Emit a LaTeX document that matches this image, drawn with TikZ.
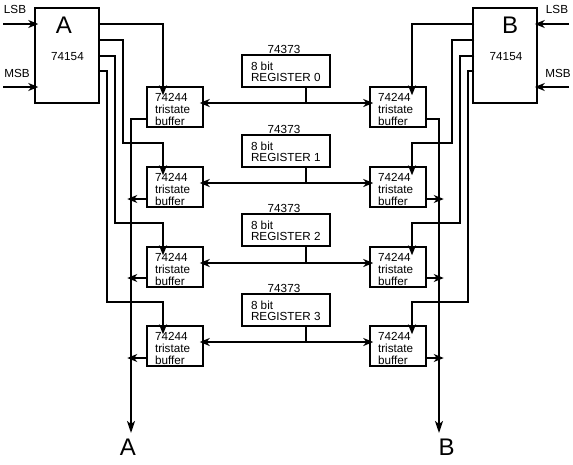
\documentclass[tikz,border=0pt]{standalone}
\usepackage{fontspec}
\setmainfont{Liberation Sans}
\usetikzlibrary{arrows.meta, positioning, calc}
\newcommand{\buftext}{\parbox{40pt}{\vspace{5pt}74244\\tristate\\buffer}}

\begin{document}
\begin{tikzpicture}[x=1pt,y=-1pt,
  chip/.style={draw,line width=1.5pt,fill=white,inner sep=0pt,minimum width=64pt,minimum height=95pt},
  buf/.style={draw,line width=1.5pt,fill=white,inner sep=0pt,minimum width=56pt,minimum height=40pt,font=\fontsize{11.7}{12}\selectfont},
  reg/.style={draw,line width=1.5pt,fill=white,inner sep=0pt,minimum width=88pt,minimum height=32pt,font=\fontsize{11.7}{11.5}\selectfont},
  lbl/.style={inner sep=0pt,font=\fontsize{11.7}{12}\selectfont},
  big/.style={inner sep=0pt,font=\fontsize{24}{24}\selectfont},
  wire/.style={line width=1.5pt},
  bus/.style={line width=1.8pt},
  arr/.style={line width=1.5pt,-{Stealth[length=10pt,width=8pt,inset=3pt]}},
  darr/.style={line width=1.8pt,{Stealth[length=10pt,width=8pt,inset=3pt]}-{Stealth[length=10pt,width=8pt,inset=3pt]}}]
\useasboundingbox (0,0) rectangle (573,464);
% decoders
\node[chip] (chipA) at (67,55.5) {};
\node[chip] (chipB) at (505,55.5) {};
\node[big] (nameA) at (64,25) {A};
\node[big] (nameB) at (510,25) {B};
\node[lbl] (partA) at (67.5,57) {74154};
\node[lbl] (partB) at (506,57) {74154};
% registers
\node[reg] (reg0) at (286,71) {\parbox{70pt}{\vspace{2pt}8 bit\\REGISTER 0}};
\node[reg] (reg1) at (286,151) {\parbox{70pt}{\vspace{2pt}8 bit\\REGISTER 1}};
\node[reg] (reg2) at (286,230) {\parbox{70pt}{\vspace{2pt}8 bit\\REGISTER 2}};
\node[reg] (reg3) at (286,310) {\parbox{70pt}{\vspace{2pt}8 bit\\REGISTER 3}};
\node[lbl] (part0) at (284,49) {74373};
\node[lbl] (part1) at (284,129) {74373};
\node[lbl] (part2) at (284,208) {74373};
\node[lbl] (part3) at (284,288) {74373};
% buffers
\node[buf] (bufA0) at (175,107) {\buftext};
\node[buf] (bufA1) at (175,187) {\buftext};
\node[buf] (bufA2) at (175,267) {\buftext};
\node[buf] (bufA3) at (175,346) {\buftext};
\node[buf] (bufB0) at (398,107) {\buftext};
\node[buf] (bufB1) at (398,187) {\buftext};
\node[buf] (bufB2) at (398,267) {\buftext};
\node[buf] (bufB3) at (398,346) {\buftext};
% labels
\node[big] (busnameA) at (128,447.5) {A};
\node[big] (busnameB) at (446.5,447.5) {B};
\node[lbl] (lsbtextA) at (15,9) {LSB};
\node[lbl] (msbtextA) at (17,73) {MSB};
\node[lbl] (lsbtextB) at (557,9) {LSB};
\node[lbl] (msbtextB) at (558,73) {MSB};
% free ends
\coordinate (lsbA) at (3,24);
\coordinate (msbA) at (3,87);
\coordinate (lsbB) at (569,24);
\coordinate (msbB) at (569,87);
\coordinate (endA) at (131,433);
\coordinate (endB) at (439,433);
% decoder inputs
\draw[arr] (lsbA) -- ($(chipA.west |- lsbA)+(4,0)$);
\draw[arr] (msbA) -- ($(chipA.west |- msbA)+(4,0)$);
\draw[arr] (lsbB) -- ($(chipB.east |- lsbB)+(-3,0)$);
\draw[arr] (msbB) -- ($(chipB.east |- msbB)+(-3,0)$);
% decoder outputs, A side
\coordinate (outA0) at (chipA.east |- 0,24);
\coordinate (outA1) at (chipA.east |- 0,40);
\coordinate (outA2) at (chipA.east |- 0,56);
\coordinate (outA3) at (chipA.east |- 0,71);
\coordinate (inA0) at ($(bufA0.north)+(-12,9)$);
\coordinate (inA1) at ($(bufA1.north)+(-12,9)$);
\coordinate (inA2) at ($(bufA2.north)+(-12,9)$);
\coordinate (inA3) at ($(bufA3.north)+(-12,9)$);
\draw[arr] (outA0) -| (inA0);
\draw[arr] (outA1) -- (123,40) -- (123,143) -| (inA1);
\draw[arr] (outA2) -- (115,56) -- (115,223) -| (inA2);
\draw[arr] (outA3) -- (107,71) -- (107,302) -| (inA3);
% decoder outputs, B side
\coordinate (outB0) at ($(chipB.west |- 0,24)+(2,0)$);
\coordinate (outB1) at ($(chipB.west |- 0,40)+(2,0)$);
\coordinate (outB2) at ($(chipB.west |- 0,56)+(2,0)$);
\coordinate (outB3) at ($(chipB.west |- 0,71)+(2,0)$);
\coordinate (inB0) at ($(bufB0.north)+(14,9)$);
\coordinate (inB1) at ($(bufB1.north)+(14,9)$);
\coordinate (inB2) at ($(bufB2.north)+(14,9)$);
\coordinate (inB3) at ($(bufB3.north)+(14,9)$);
\draw[arr] (outB0) -| (inB0);
\draw[arr] (outB1) -- (452,40) -- (452,143) -| (inB1);
\draw[arr] (outB2) -- (460,56) -- (460,223) -| (inB2);
\draw[arr] (outB3) -- (468,71) -- (468,302) -| (inB3);
% register to buffers
\draw[darr] ($(bufA0.east)+(-4,-4)$) -- ($(bufB0.west)+(4,-4)$);
\draw[darr] ($(bufA1.east)+(-4,-4)$) -- ($(bufB1.west)+(4,-4)$);
\draw[darr] ($(bufA2.east)+(-4,-4)$) -- ($(bufB2.west)+(4,-4)$);
\draw[darr] ($(bufA3.east)+(-4,-4)$) -- ($(bufB3.west)+(4,-4)$);
\draw[wire] ($(reg0.south)+(20,0)$) -- ++(0,16);
\draw[wire] ($(reg1.south)+(20,0)$) -- ++(0,16);
\draw[wire] ($(reg2.south)+(20,0)$) -- ++(0,17);
\draw[wire] ($(reg3.south)+(20,0)$) -- ++(0,16);
% output busses
\draw[bus,-{Stealth[length=12pt,width=8pt,inset=3pt]}] (bufA0.west |- 0,119) -| (endA);
\draw[bus,-{Stealth[length=12pt,width=8pt,inset=3pt]}] ($(bufB0.east |- 0,119)+(-2,0)$) -| (endB);
\draw[arr] (bufA1.west |- 0,199) -- ++(-19,0);
\draw[arr] (bufA2.west |- 0,278) -- ++(-19,0);
\draw[arr] (bufA3.west |- 0,358) -- ++(-19,0);
\draw[arr] ($(bufB1.east |- 0,199)+(-2,0)$) -- ++(19,0);
\draw[arr] ($(bufB2.east |- 0,278)+(-2,0)$) -- ++(19,0);
\draw[arr] ($(bufB3.east |- 0,358)+(-2,0)$) -- ++(19,0);
\end{tikzpicture}
\end{document}
